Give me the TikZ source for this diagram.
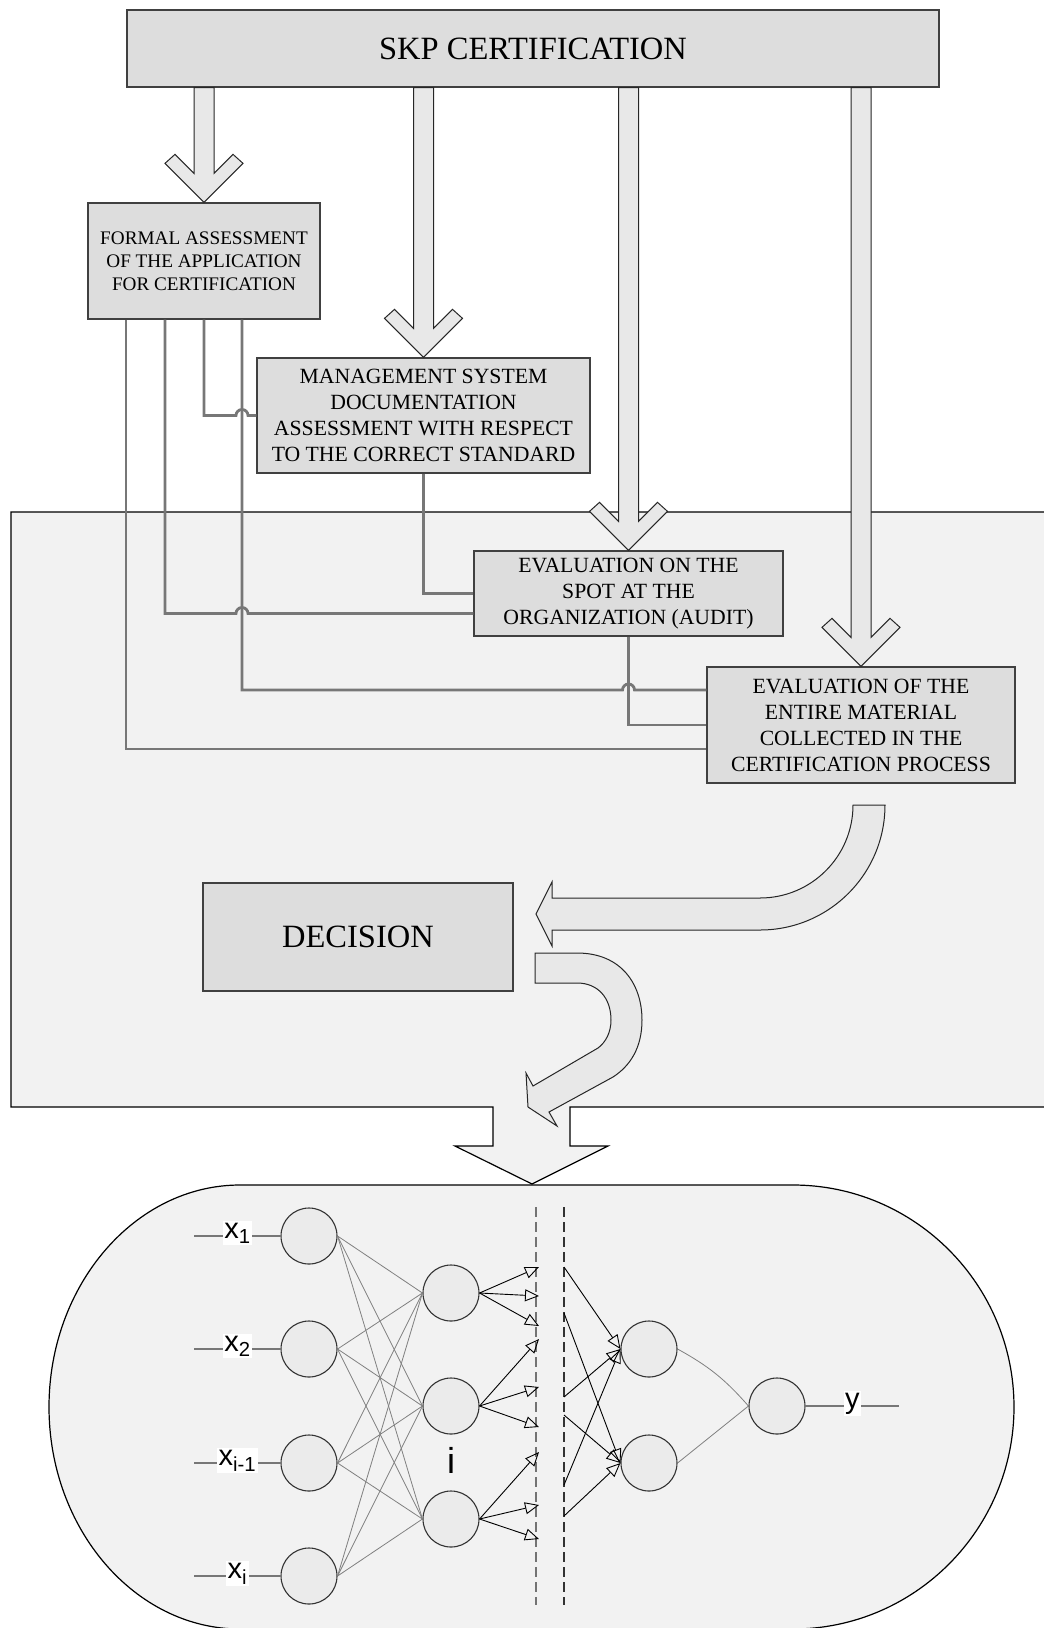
\documentclass[tikz,border=0pt]{standalone}
\usepackage{fontspec}
\setmainfont{Liberation Serif}
\setsansfont{Liberation Sans}
\usetikzlibrary{calc,arrows.meta}

\definecolor{boxgray}{HTML}{DDDDDD}
\definecolor{areagray}{HTML}{F2F2F2}
\definecolor{arrowgray}{HTML}{E8E8E8}
\definecolor{linkgray}{HTML}{777777}
\definecolor{nodegray}{HTML}{EBEBEB}

\tikzset{
  stagebox/.style={draw=black!75, line width=1.3pt, fill=boxgray, align=center,
    inner sep=0pt, font=\fontsize{21.7}{26}\selectfont},
  bigarrow/.style={draw=black!85, line width=1pt, fill=arrowgray},
  link/.style={draw=linkgray, line width=2.8pt},
  neuron/.style={circle, draw=black!80, line width=1.1pt, fill=nodegray,
    minimum size=56pt, inner sep=0pt},
  weight/.style={draw=black!50, line width=0.8pt},
  feed/.style={draw=linkgray, line width=2pt},
  signal/.style={draw=black, line width=0.9pt, -{Triangle[open,length=14pt,width=12pt]}},
  cutline/.style={line width=1.2pt, dash pattern=on 10pt off 5pt},
  varlabel/.style={fill=white, inner sep=1.5pt, anchor=mid,
    font=\sffamily\fontsize{29}{31}\selectfont},
}

\newcommand{\chevdown}[1]{%
  \draw[bigarrow] (#1.north) -- ++(39,-39) -- ++(-10,-9) -- ++(-19,19)
    -- ($(#1.north |- skp.south)+(10,0)$) -- ++(-20,0)
    -- ($(#1.north)+(-10,-29)$) -- ++(-19,-19) -- ++(-10,9) -- cycle;}

\begin{document}
\begin{tikzpicture}[x=1pt,y=-1pt]
  \useasboundingbox (0,0) rectangle (1044,1628);

  \draw[fill=areagray, line width=1.2pt]
    (11,512) -- (1050,512) -- (1050,1107) -- (570,1107) -- (570,1146)
    -- (608,1146) -- (532,1184) -- (455,1146) -- (493,1146) -- (493,1107)
    -- (11,1107) -- cycle;
  \draw[fill=areagray, line width=1.2pt]
    (240,1185) -- (793,1185) .. controls (915,1185) and (1014,1285) .. (1014,1407)
    .. controls (1014,1529) and (915,1629) .. (793,1629) -- (240,1629)
    .. controls (135,1629) and (49,1529) .. (49,1407)
    .. controls (49,1285) and (135,1185) .. (240,1185) -- cycle;

  \node[stagebox, minimum width=812pt, minimum height=77pt,
    font=\fontsize{32.5}{39}\selectfont] (skp) at (533,48.5) {SKP CERTIFICATION};
  \node[stagebox, minimum width=232pt, minimum height=116pt,
    font=\fontsize{19.2}{23}\selectfont] (formal) at (204,261)
    {FORMAL ASSESSMENT\\OF THE APPLICATION\\FOR CERTIFICATION};
  \node[stagebox, minimum width=333pt, minimum height=115pt] (mgmt) at (423.5,415.5)
    {MANAGEMENT SYSTEM\\DOCUMENTATION\\ASSESSMENT WITH RESPECT\\TO THE CORRECT STANDARD};
  \node[stagebox, minimum width=309pt, minimum height=85pt] (audit) at (628.5,593.5)
    {EVALUATION ON THE\\SPOT AT THE\\ORGANIZATION (AUDIT)};
  \node[stagebox, minimum width=308pt, minimum height=116pt] (final) at (861,725)
    {EVALUATION OF THE\\ENTIRE MATERIAL\\COLLECTED IN THE\\CERTIFICATION PROCESS};
  \node[stagebox, minimum width=310pt, minimum height=108pt,
    font=\fontsize{32.5}{39}\selectfont] (decision) at (358,937) {DECISION};

  \chevdown{formal}
  \chevdown{mgmt}
  \chevdown{audit}
  \chevdown{final}

  \draw[bigarrow] (853,805) -- (885,805) arc[start angle=0,end angle=90,radius=125]
    -- (552,930) -- (552,946) -- (536,914) -- (552,882) -- (552,898) -- (760,898)
    arc[start angle=90,end angle=0,radius=93] -- cycle;
  \draw[bigarrow] (535,953) -- (577,953) .. controls (622,953) and (642,985) .. (642,1020)
    .. controls (642,1048) and (630,1066) .. (613,1077) -- (549,1112) -- (557,1126)
    -- (528,1107) -- (526,1073) -- (533,1086) -- (598,1048)
    .. controls (606,1042) and (611,1032) .. (611,1020)
    .. controls (611,998) and (598,983) .. (577,983) -- (535,983) -- cycle;

  \coordinate (f1) at ($(formal.south)+(-78,0)$);
  \coordinate (f2) at ($(formal.south)+(-39,0)$);
  \coordinate (f3) at (formal.south);
  \coordinate (f4) at ($(formal.south)+(38,0)$);
  \draw[link] (f3) |- ($(f4 |- mgmt.west)+(-6,0)$)
    arc[start angle=180,end angle=360,radius=6] -- (mgmt.west);
  \draw[link] (f2) |- ($(f4 |- audit.west)+(-6,20)$)
    arc[start angle=180,end angle=360,radius=6] -- ($(audit.west)+(0,20)$);
  \draw[link] (mgmt.south) |- (audit.west);
  \draw[link] (f4) |- ($(audit.south |- final.west)+(-6,-35)$)
    arc[start angle=180,end angle=360,radius=6] -- ($(final.west)+(0,-35)$);
  \draw[link] (audit.south) |- (final.west);
  \draw[link] (f1) |- ($(final.west)+(0,24)$);

  \foreach \n/\y in {1/1236, 2/1349, 3/1463, 4/1576}
    \node[neuron] (in\n) at (309,\y) {};
  \foreach \n/\y in {1/1293, 2/1406, 3/1519}
    \node[neuron] (hid\n) at (451,\y) {};
  \node[neuron] (out1) at (649,1349) {};
  \node[neuron] (out2) at (649,1463) {};
  \node[neuron] (res) at (777,1406) {};

  \foreach \n/\lab in {1/{x\textsubscript{1}}, 2/{x\textsubscript{2}},
      3/{x\textsubscript{i-1}}, 4/{x\textsubscript{i}}} {
    \coordinate (src\n) at ($(in\n.west)+(-86,0)$);
    \draw[feed] (src\n) -- (in\n.west) node[varlabel, pos=0.5] {\lab};
  }
  \foreach \a in {1,...,4}
    \foreach \b in {1,2,3}
      \draw[weight] (in\a.east) -- (hid\b.west);
  \node[font=\sffamily\fontsize{36}{40}\selectfont] (idx) at (451,1460) {i};

  \draw[cutline, draw=black!55] (536,1207) -- (536,1605);
  \draw[cutline, draw=black!80] (564,1207) -- (564,1605);

  \foreach \h/\ya/\yb/\yc in {1/1267/1296/1326, 2/1339/1387/1427, 3/1452/1505/1539}
    \foreach \t/\yy in {a/\ya, b/\yb, c/\yc} {
      \coordinate (s\h\t) at (539,\yy);
      \draw[signal] (hid\h.east) -- (s\h\t);
    }
  \foreach \y/\o in {1267/1, 1313/2, 1397/1, 1415/2, 1485/1, 1516/2} {
    \coordinate (r\y) at (564,\y);
    \draw[signal] (r\y) -- (out\o.west);
  }
  \draw[weight] (out1.east) to[bend left=10] (res.west);
  \draw[weight] (out2.east) -- (res.west);
  \coordinate (yend) at (899,1406);
  \draw[feed] (res.east) -- (yend) node[varlabel, pos=0.5] {y};
\end{tikzpicture}
\end{document}
